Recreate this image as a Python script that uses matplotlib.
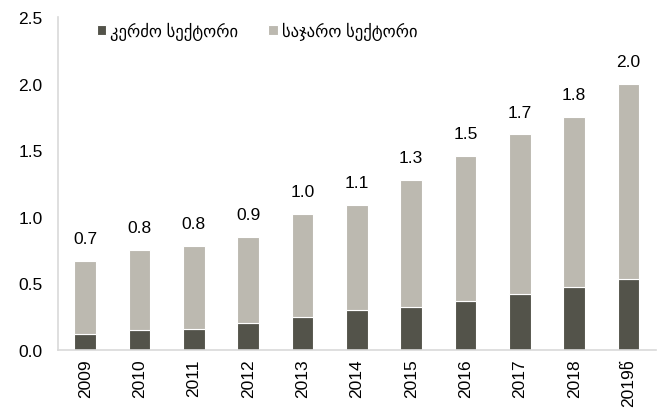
import matplotlib
matplotlib.use("Agg")
import matplotlib.pyplot as plt
import numpy as np

plt.rcParams["font.family"] = ["Liberation Sans", "DejaVu Sans"]

years = ["2009", "2010", "2011", "2012", "2013", "2014", "2015", "2016",
         "2017", "2018", "2019წ"]
private = [0.12, 0.15, 0.16, 0.20, 0.25, 0.30, 0.32, 0.37, 0.42, 0.47, 0.53]
total = [0.67, 0.75, 0.78, 0.85, 1.02, 1.09, 1.28, 1.46, 1.62, 1.75, 2.00]
total_labels = [0.7, 0.8, 0.8, 0.9, 1.0, 1.1, 1.3, 1.5, 1.7, 1.8, 2.0]
public = [t - p for t, p in zip(total, private)]

DARK = "#53534a"
LIGHT = "#bcb9b0"
AXIS = "#d9d9d9"

fig = plt.figure(figsize=(6.59, 4.10), dpi=100)
ax = fig.add_axes([0.088, 0.144, 0.907, 0.812])

x = np.arange(len(years))
ax.bar(x, private, width=0.4, color=DARK, edgecolor="white", linewidth=0.8,
       label="კერძო სექტორი")
ax.bar(x, public, width=0.4, bottom=private, color=LIGHT, edgecolor="white",
       linewidth=0.8, label="საჯარო სექტორი")

for xi, t, lab in zip(x, total, total_labels):
    ax.text(xi, t + 0.11, f"{lab:.1f}", ha="center", va="bottom", fontsize=12.5)

ax.set_xlim(-0.5, len(years) - 0.5)
ax.set_ylim(0, 2.5)
ax.set_yticks(np.arange(0, 2.51, 0.5))
ax.set_yticklabels([f"{v:.1f}" for v in np.arange(0, 2.51, 0.5)])
ax.set_xticks(x)
ax.set_xticklabels(years, rotation=90)
ax.tick_params(axis="both", length=0, labelsize=12.5)
ax.tick_params(axis="y", pad=11)
ax.tick_params(axis="x", pad=6)

for side in ("top", "right"):
    ax.spines[side].set_visible(False)
for side in ("left", "bottom"):
    ax.spines[side].set_color(AXIS)
    ax.spines[side].set_linewidth(1.2)

ax.legend(loc="upper left", bbox_to_anchor=(0.04, 1.03), ncol=2, frameon=False,
          fontsize=12, handlelength=0.55, handleheight=0.55, handletextpad=0.25,
          columnspacing=1.8)

fig.savefig("out.png", dpi=100)
